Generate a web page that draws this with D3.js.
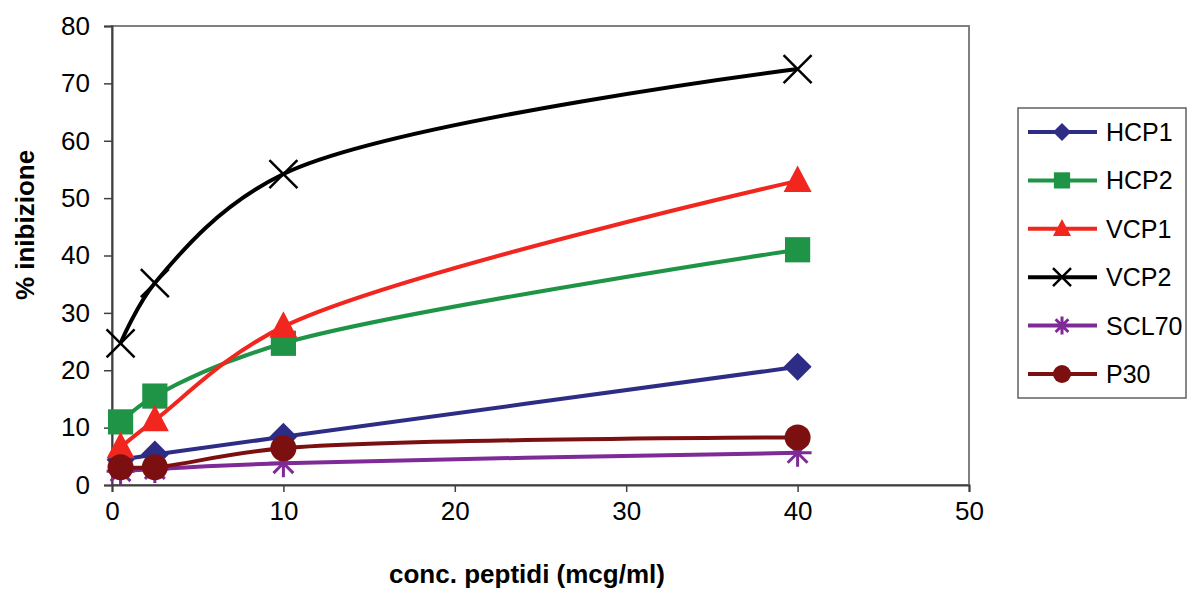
<!DOCTYPE html>
<html lang="en">
<head>
<meta charset="UTF-8">
<title>Inibizione</title>
<script src="https://d3js.org/d3.v7.min.js"></script>
<style>
  body { margin: 0; background: #fff; }
  text { font-family: "Liberation Sans", Arial, sans-serif; }
</style>
</head>
<body>
<svg width="1189" height="591"></svg>
<script>
// data
const conc = [0.5, 2.5, 10, 40];
const seriesNames = ["HCP1", "HCP2", "VCP1", "VCP2", "SCL70", "P30"];
const hcp1 = [4.4, 5.3, 8.4, 20.6];
const hcp2 = [11.0, 15.5, 24.7, 41.0];
const vcp1 = [6.6, 11.3, 27.6, 53.0];
const vcp2 = [24.7, 35.2, 54.2, 72.5];
const scl70 = [2.4, 2.8, 3.8, 5.6];
const p30 = [3.1, 3.1, 6.4, 8.3];
const xTicks = [0, 10, 20, 30, 40, 50];
const yTicks = [0, 10, 20, 30, 40, 50, 60, 70, 80];

const colors = ["#2e2d86", "#1f9447", "#f0261f", "#000000", "#7e2a97", "#7c1010"];
const shapes = ["diamond", "square", "triangle", "cross", "star", "circle"];
const values = [hcp1, hcp2, vcp1, vcp2, scl70, p30];

const svg = d3.select("svg");
const plotLeft = 112, plotRight = 969, plotTop = 26, plotBottom = 485;

const x = d3.scaleLinear().domain([0, 50]).range([plotLeft, plotRight]);
const y = d3.scaleLinear().domain([0, 80]).range([plotBottom, plotTop]);

// plot area frame
svg.append("rect")
  .attr("x", plotLeft).attr("y", plotTop)
  .attr("width", plotRight - plotLeft).attr("height", plotBottom - plotTop)
  .attr("fill", "none").attr("stroke", "#808080").attr("stroke-width", 2);

// axes
const xAxis = svg.append("g")
  .attr("transform", "translate(0," + plotBottom + ")")
  .call(d3.axisBottom(x).tickValues(xTicks).tickSize(7).tickPadding(10).tickFormat(d3.format("d")));
const yAxis = svg.append("g")
  .attr("transform", "translate(" + plotLeft + ",0)")
  .call(d3.axisLeft(y).tickValues(yTicks).tickSize(8).tickPadding(14).tickFormat(d3.format("d")));

[xAxis, yAxis].forEach(a => {
  a.select(".domain").attr("stroke", "#404040").attr("stroke-width", 2);
  a.selectAll(".tick line").attr("stroke", "#404040").attr("stroke-width", 1.5);
  a.selectAll(".tick text").attr("fill", "#000").style("font-size", "26px")
    .style("font-family", "'Liberation Sans', Arial, sans-serif");
});

svg.append("text")
  .attr("x", 527).attr("y", 583)
  .attr("text-anchor", "middle")
  .style("font-size", "26px").style("font-weight", "bold")
  .text("conc. peptidi (mcg/ml)");

svg.append("text")
  .attr("transform", "translate(34,225) rotate(-90)")
  .attr("text-anchor", "middle")
  .style("font-size", "26px").style("font-weight", "bold")
  .text("% inibizione");

function drawMarker(g, shape, color, cx, cy, s) {
  if (shape == "diamond") {
    g.append("path").attr("d", `M${cx},${cy - s}L${cx + s},${cy}L${cx},${cy + s}L${cx - s},${cy}Z`).attr("fill", color);
  } else if (shape == "square") {
    g.append("rect").attr("x", cx - s * 0.9).attr("y", cy - s * 0.9)
      .attr("width", s * 1.8).attr("height", s * 1.8).attr("fill", color);
  } else if (shape == "triangle") {
    g.append("path").attr("d", `M${cx},${cy - s * 1.1}L${cx + s},${cy + s * 0.8}L${cx - s},${cy + s * 0.8}Z`).attr("fill", color);
  } else if (shape == "cross") {
    g.append("path").attr("d", `M${cx - s},${cy - s}L${cx + s},${cy + s}M${cx + s},${cy - s}L${cx - s},${cy + s}`)
      .attr("stroke", color).attr("stroke-width", 2.5).attr("fill", "none");
  } else if (shape == "star") {
    let d = "";
    for (let i = 0; i < 4; i++) {
      const a = i * Math.PI / 4;
      const dx = Math.sin(a) * s, dy = Math.cos(a) * s;
      d += `M${cx - dx},${cy - dy}L${cx + dx},${cy + dy}`;
    }
    g.append("path").attr("d", d).attr("stroke", color).attr("stroke-width", 3).attr("fill", "none");
  } else if (shape == "circle") {
    g.append("circle").attr("cx", cx).attr("cy", cy).attr("r", s).attr("fill", color);
  }
}

const markerSize = [14, 14, 14, 14, 14, 13];

const line = d3.line()
  .x(d => x(d[0]))
  .y(d => y(d[1]))
  .curve(d3.curveCatmullRom.alpha(0.5));

values.forEach((vals, i) => {
  const pts = conc.map((c, j) => [c, vals[j]]);
  const g = svg.append("g");
  g.append("path").datum(pts)
    .attr("d", line)
    .attr("fill", "none")
    .attr("stroke", colors[i])
    .attr("stroke-width", 4);
  pts.forEach(p => drawMarker(g, shapes[i], colors[i], x(p[0]), y(p[1]), markerSize[i]));
});

// legend
const lg = svg.append("g");
lg.append("rect")
  .attr("x", 1018).attr("y", 108).attr("width", 168).attr("height", 290)
  .attr("fill", "#fff").attr("stroke", "#606060").attr("stroke-width", 1.5);

const legendY = d3.scalePoint().domain(seriesNames).range([132, 374]);
seriesNames.forEach((name, i) => {
  const ly = legendY(name);
  lg.append("line").attr("x1", 1028).attr("x2", 1097).attr("y1", ly).attr("y2", ly)
    .attr("stroke", colors[i]).attr("stroke-width", 4);
  drawMarker(lg, shapes[i], colors[i], 1062, ly, 9);
  lg.append("text").attr("x", 1106).attr("y", ly).attr("dy", "0.36em")
    .style("font-size", "25px").text(name);
});
</script>
</body>
</html>
